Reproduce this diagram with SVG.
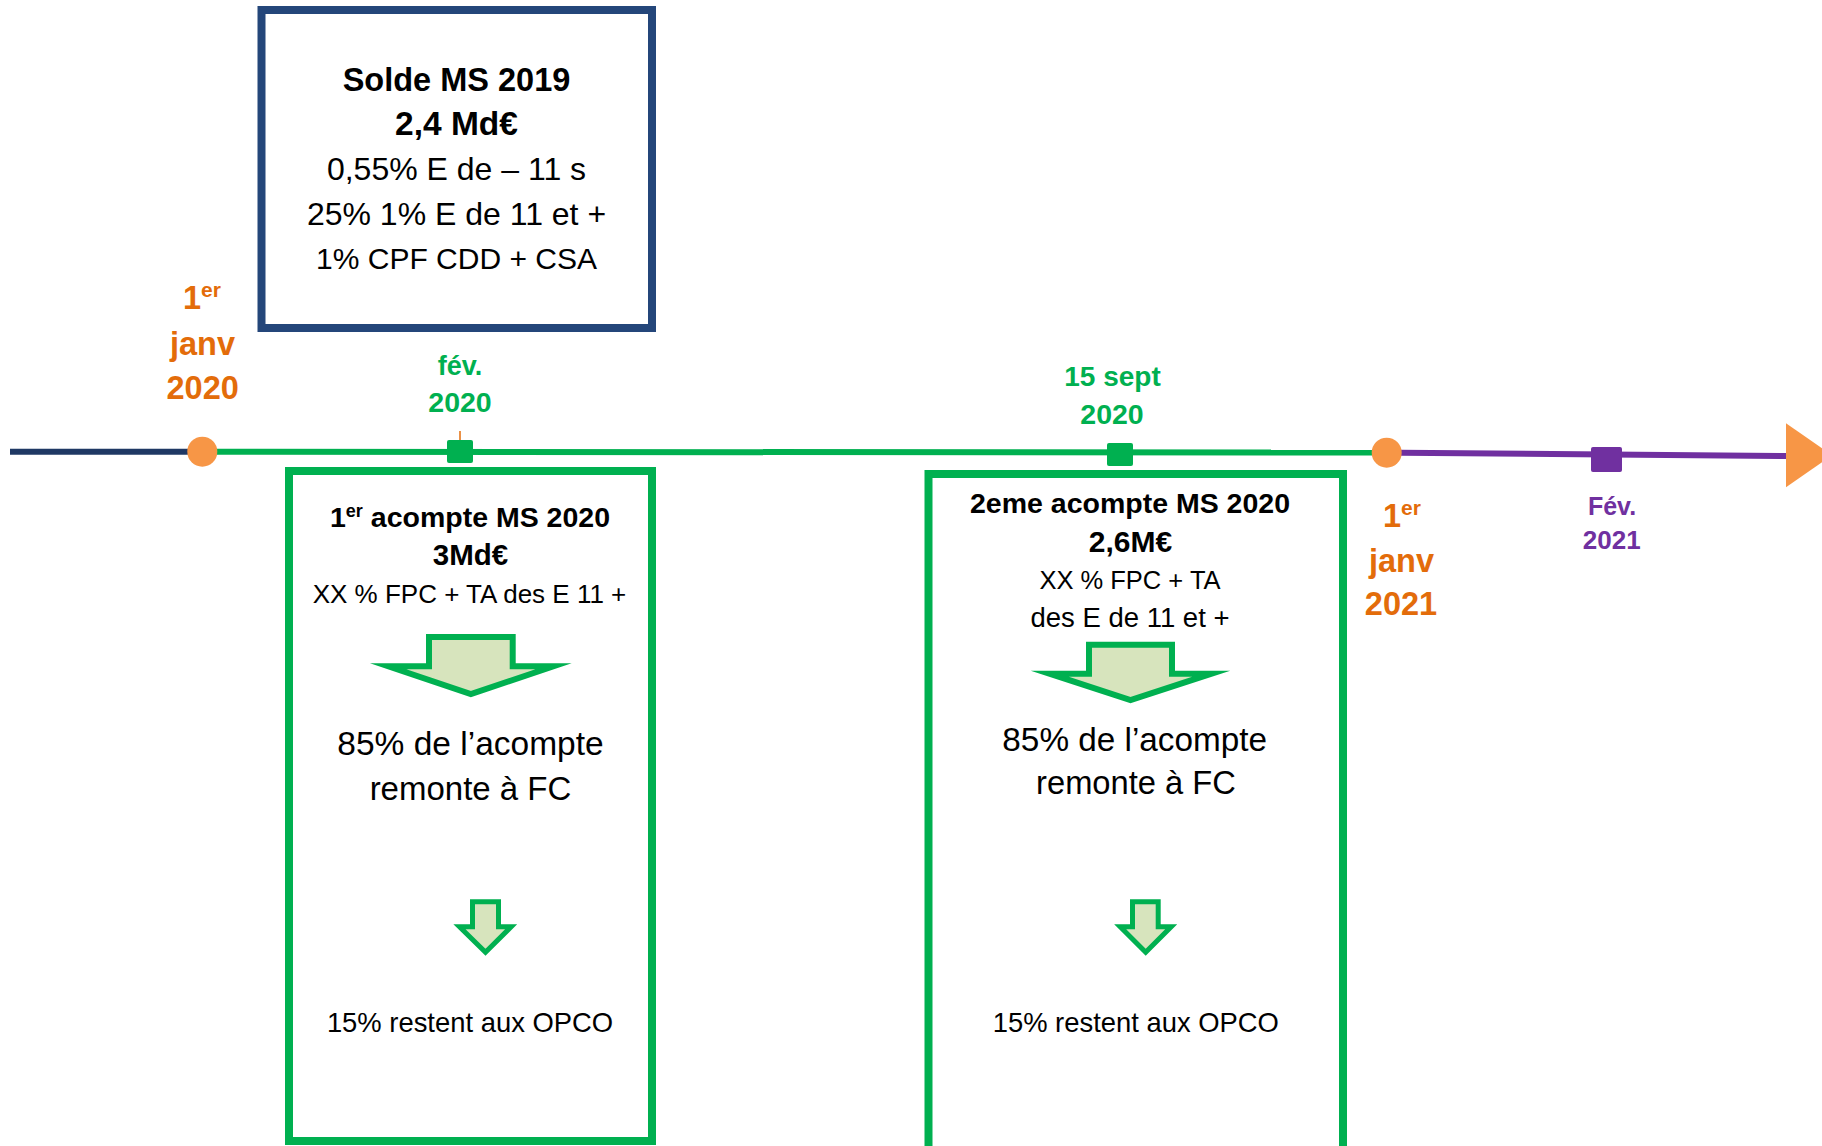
<svg xmlns="http://www.w3.org/2000/svg" width="1822" height="1146" viewBox="0 0 1822 1146">
<style>
text{font-family:"Liberation Sans",Arial,sans-serif;text-anchor:middle}
.b{font-weight:bold}
.blk{fill:#000}
.or{fill:#E36C0A;font-weight:bold}
.gr{fill:#00B050;font-weight:bold}
.pu{fill:#7030A0;font-weight:bold}
.gbox{fill:none;stroke:#00B050;stroke-width:8}
.bbox{fill:#fff;stroke:#24467A;stroke-width:8}
.arr{fill:#D7E4BD;stroke:#00B050;stroke-linejoin:miter;stroke-miterlimit:10}
.dot{fill:#F79646}
</style>
<rect width="1822" height="1146" fill="#fff"/>
<g id="timeline">
<line x1="10" y1="451.7" x2="190" y2="451.7" stroke="#1F3864" stroke-width="6"/>
<line x1="215" y1="451.7" x2="1375" y2="452.6" stroke="#00B050" stroke-width="6"/>
<line x1="1400" y1="452.7" x2="1790" y2="456" stroke="#7030A0" stroke-width="6"/>
<polygon points="1786,423.3 1786,487.3 1832,455.3" fill="#F79646"/>
<line x1="460" y1="431" x2="460" y2="441" stroke="#E36C0A" stroke-width="1.5"/>
</g>
<g id="jan2020">
<circle class="dot" cx="202.3" cy="451.7" r="15"/>
<text class="or" font-size="32.5" x="202" y="309">1<tspan font-size="21" dy="-12">er</tspan></text>
<text class="or" font-size="32.5" x="202.5" y="355">janv</text>
<text class="or" font-size="32.5" x="202.7" y="399">2020</text>
</g>
<g id="fev2020">
<rect x="447" y="440" width="26" height="23" rx="2" fill="#00B050"/>
<text class="gr" font-size="27" x="460" y="375">fév.</text>
<text class="gr" font-size="28.5" x="460" y="412">2020</text>
</g>
<g id="sept2020">
<rect x="1107" y="443" width="26" height="23" rx="2" fill="#00B050"/>
<text class="gr" font-size="28" x="1112.5" y="386">15 sept</text>
<text class="gr" font-size="28.5" x="1112" y="424">2020</text>
</g>
<g id="jan2021">
<circle class="dot" cx="1386.7" cy="452.7" r="15"/>
<text class="or" font-size="32.5" x="1402" y="527">1<tspan font-size="21" dy="-12">er</tspan></text>
<text class="or" font-size="32.5" x="1401.5" y="572">janv</text>
<text class="or" font-size="32.5" x="1401" y="615">2021</text>
</g>
<g id="fev2021">
<rect x="1591" y="447" width="31" height="25" rx="2" fill="#7030A0"/>
<text class="pu" font-size="25" x="1612" y="515">Fév.</text>
<text class="pu" font-size="26" x="1611.7" y="549">2021</text>
</g>
<g id="solde2019">
<rect class="bbox" x="261.5" y="10" width="390.5" height="318"/>
<text class="b blk" font-size="32.5" x="456.5" y="90.7">Solde MS 2019</text>
<text class="b blk" font-size="33.5" x="456.5" y="135">2,4 Md€</text>
<text class="blk" font-size="32" x="456.5" y="180">0,55% E de – 11 s</text>
<text class="blk" font-size="32" x="456.5" y="225">25% 1% E de 11 et +</text>
<text class="blk" font-size="30" x="456.5" y="269.3">1% CPF CDD + CSA</text>
</g>
<g id="acompte1">
<rect class="gbox" x="289" y="471" width="363" height="670"/>
<text class="b blk" font-size="28.5" x="470" y="527">1<tspan font-size="18" dy="-10">er</tspan><tspan dy="10"> acompte MS 2020</tspan></text>
<text class="b blk" font-size="29.5" x="470.5" y="565">3Md€</text>
<text class="blk" font-size="26" x="469.5" y="603.3">XX % FPC + TA des E 11 +</text>
<polygon class="arr" stroke-width="6" points="429,637 512.7,637 512.7,666.3 553.4,666.3 470.85,694.1 388.3,666.3 429,666.3"/>
<text class="blk" font-size="33.5" x="470.5" y="755">85% de l’acompte</text>
<text class="blk" font-size="33" x="470.5" y="800">remonte à FC</text>
<polygon class="arr" stroke-width="5" points="472.5,901.8 498.5,901.8 498.5,926.8 511.1,926.8 485.5,952.2 459.5,926.8 472.5,926.8"/>
<text class="blk" font-size="27.4" x="470" y="1031.7">15% restent aux OPCO</text>
</g>
<g id="acompte2">
<rect class="gbox" x="928.5" y="474" width="414.5" height="690"/>
<text class="b blk" font-size="28.5" x="1130" y="513.3">2eme acompte MS 2020</text>
<text class="b blk" font-size="30" x="1130.5" y="551.7">2,6M€</text>
<text class="blk" font-size="25.5" x="1130" y="589.3">XX % FPC + TA</text>
<text class="blk" font-size="27.5" x="1130" y="627.3">des E de 11 et +</text>
<polygon class="arr" stroke-width="6" points="1089,644.7 1172,644.7 1172,673.7 1211.4,673.7 1130.5,700.1 1049.6,673.7 1089,673.7"/>
<text class="blk" font-size="33.3" x="1134.7" y="750.7">85% de l’acompte</text>
<text class="blk" font-size="32.7" x="1136" y="794">remonte à FC</text>
<polygon class="arr" stroke-width="5" points="1132.5,901.8 1158.2,901.8 1158.2,926.8 1171.2,926.8 1145.7,952.2 1120.2,926.8 1132.5,926.8"/>
<text class="blk" font-size="27.4" x="1135.8" y="1031.7">15% restent aux OPCO</text>
</g>
</svg>
